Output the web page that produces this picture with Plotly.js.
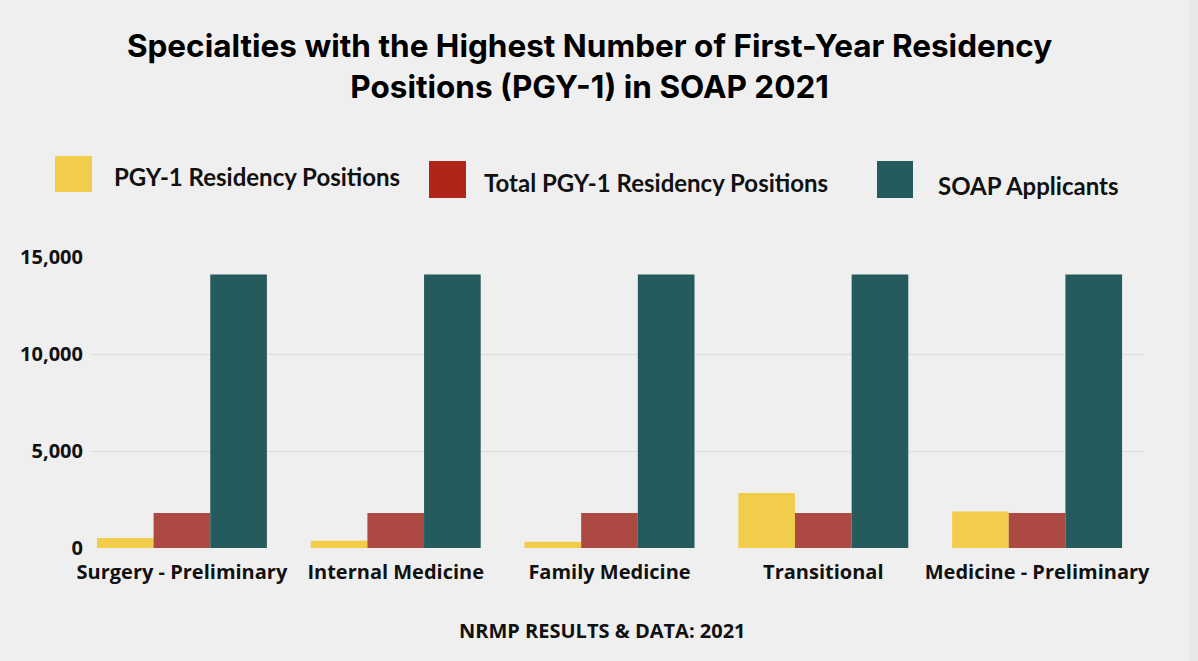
<!DOCTYPE html>
<html>
<head>
<meta charset="utf-8">
<script src="https://cdn.plot.ly/plotly-3.0.1.min.js"></script>
<style>
html,body{margin:0;padding:0;background:#efefef;}
#chart{width:1198px;height:661px;}
</style>
</head>
<body>
<div id="chart"></div>
<script>
const categories = ["Surgery - Preliminary", "Internal Medicine", "Family Medicine", "Transitional", "Medicine - Preliminary"];
const seriesNames = ["PGY-1 Residency Positions", "Total PGY-1 Residency Positions", "SOAP Applicants"];
const pgy1Positions = [510, 380, 320, 2830, 1880];
const totalPgy1Positions = [1800, 1800, 1800, 1800, 1800];
const soapApplicants = [14100, 14100, 14100, 14100, 14100];
const yTickValues = [0, 5000, 10000, 15000];
const yTickLabels = ["0", "5,000", "10,000", "15,000"];

const barColors = ["#f1cd4b", "#ad4943", "#255b5d"];
const legendColors = ["#f1cd4b", "#b0241a", "#255b5d"];

const traces = [pgy1Positions, totalPgy1Positions, soapApplicants].map((vals, i) => ({
  type: "bar",
  name: seriesNames[i],
  x: categories,
  y: vals,
  marker: {color: barColors[i], line: {width: 0}},
  hoverinfo: "x+y+name"
}));

const legendItems = [
  {sx0: 55, sx1: 92, sy0: 156, sy1: 192, tx: 112, ty: 176},
  {sx0: 429, sx1: 466, sy0: 161, sy1: 198, tx: 482, ty: 182},
  {sx0: 877, sx1: 913, sy0: 161, sy1: 198, tx: 936, ty: 185}
];
const W = 1198, H = 661;

const layout = {
  width: W, height: H,
  paper_bgcolor: "#efefef",
  plot_bgcolor: "#efefef",
  margin: {l: 90, r: 54, t: 257, b: 113, pad: 0},
  title: {
    text: "Specialties with the Highest Number of First-Year Residency<br>Positions (PGY-1) in SOAP 2021",
    font: {family: "Inter, 'Noto Sans', sans-serif", size: 31.5, color: "#000000", weight: 700},
    x: 0.474, xanchor: "center", xref: "paper",
    y: 1 - 57/H, yanchor: "middle", yref: "container"
  },
  showlegend: false,
  barmode: "group",
  bargap: 0.205,
  bargroupgap: 0,
  xaxis: {
    type: "category",
    range: [-0.43, 4.5],
    showgrid: false, zeroline: false, showline: false,
    ticks: "",
    ticklabelstandoff: 10,
    tickfont: {family: "'Open Sans', sans-serif", size: 20, color: "#111111", weight: 700},
    fixedrange: true
  },
  yaxis: {
    range: [0, 15000],
    tickvals: yTickValues,
    ticktext: yTickLabels,
    showgrid: true, gridcolor: "#dcdcdc", gridwidth: 1,
    zeroline: false, showline: false,
    ticks: "",
    ticklabelstandoff: 6,
    tickfont: {family: "'Open Sans', sans-serif", size: 20, color: "#111111", weight: 700},
    fixedrange: true
  },
  shapes: [],
  annotations: []
};

const pl = layout.margin.l, pr = W - layout.margin.r, pt = layout.margin.t, pb = H - layout.margin.b;
const px = v => (v - pl) / (pr - pl);
const py = v => (pb - v) / (pb - pt);
legendItems.forEach((it, i) => {
  layout.shapes.push({
    type: "rect", xref: "paper", yref: "paper",
    x0: px(it.sx0), x1: px(it.sx1), y0: py(it.sy1), y1: py(it.sy0),
    line: {width: 0}, fillcolor: legendColors[i], layer: "above"
  });
  layout.annotations.push({
    xref: "paper", yref: "paper", x: px(it.tx), y: py(it.ty),
    xanchor: "left", yanchor: "middle", showarrow: false,
    text: seriesNames[i],
    font: {family: "Lato, sans-serif", size: 24, color: "#111111", weight: 700}
  });
});
layout.shapes.push({
  type: "rect", xref: "paper", yref: "paper",
  x0: px(1189), x1: px(1198), y0: py(H), y1: py(0),
  line: {width: 0}, fillcolor: "#e7e8ea", layer: "below"
});
layout.annotations.push({
  xref: "paper", yref: "paper", x: px(602), y: py(630),
  xanchor: "center", yanchor: "middle", showarrow: false,
  text: "NRMP RESULTS &amp; DATA: 2021",
  font: {family: "'Open Sans', sans-serif", size: 20, color: "#111111", weight: 700}
});

Plotly.newPlot("chart", traces, layout, {displayModeBar: false, staticPlot: true});
</script>
</body>
</html>
